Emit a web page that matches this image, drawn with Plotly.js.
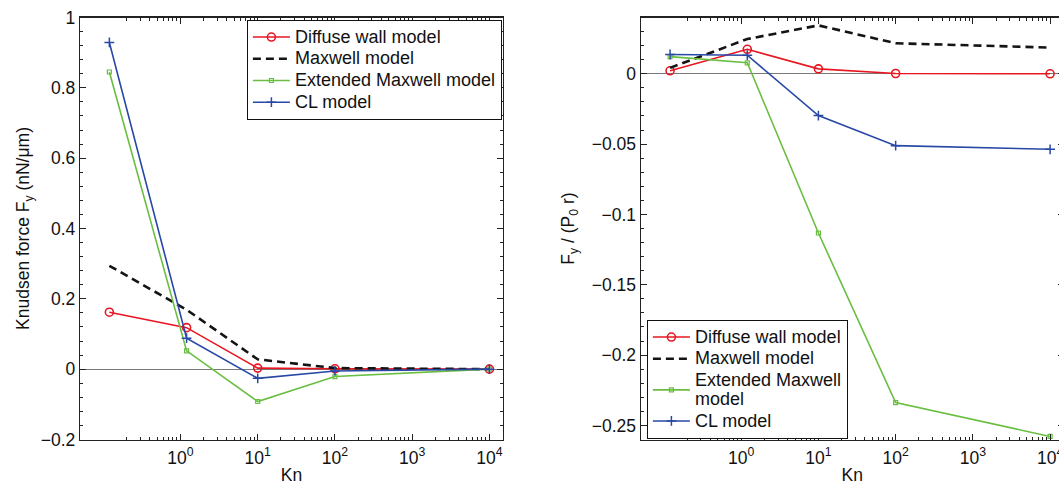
<!DOCTYPE html>
<html>
<head>
<meta charset="utf-8">
<script src="https://cdn.plot.ly/plotly-3.0.1.min.js"></script>
<style>
html,body{margin:0;padding:0;overflow:hidden;background:#fff;}
#chart{width:1064px;height:485px;}
</style>
</head>
<body>
<div id="chart"></div>
<script>
// ---- data ----
const kn = [0.12, 1.2, 10, 100, 10000];
const seriesNames = ["Diffuse wall model", "Maxwell model", "Extended Maxwell model", "CL model"];
const seriesNamesRight = ["Diffuse wall model", "Maxwell model", "Extended Maxwell<br>model", "CL model"];
// Left panel: Knudsen force Fy (nN/um)
const diffuseLeft  = [0.162, 0.118, 0.003, 0.001, 0.0];
const maxwellLeft  = [0.294, 0.169, 0.028, 0.003, 0.0];
const extendedLeft = [0.845, 0.052, -0.092, -0.021, 0.0];
const clLeft       = [0.929, 0.088, -0.026, -0.005, 0.0];
// Right panel: Fy / (P0 r)
const diffuseRight  = [0.0021, 0.0174, 0.0035, 0.0002, 0.0];
const maxwellRight  = [0.0042, 0.0247, 0.0344, 0.0217, 0.0186];
const extendedRight = [0.0122, 0.0078, -0.1132, -0.2338, -0.2578];
const clRight       = [0.0137, 0.0132, -0.0297, -0.0511, -0.0537];
// tick labels
const xTickVals = [1, 10, 100, 1000, 10000];
const xTickText = ["10<sup>0</sup>", "10<sup>1</sup>", "10<sup>2</sup>", "10<sup>3</sup>", "10<sup>4</sup>"];

// ---- styles ----
const W = 1064, H = 485;
const FONT = "Liberation Sans, Arial, Helvetica, sans-serif";
const LEG_TEXT = 18;      // visible legend text size
const LEG_ROW = 14.4;     // legend row metric (controls entry spacing)
function legText(name) {
  return name.split("<br>").map(p => '<span style="font-size:' + LEG_TEXT + 'px">' + p + '</span>').join("<br>");
}
const styles = [
  {color: "rgb(232,22,32)", width: 1.6, dash: "solid", marker: {symbol: "circle-open", size: 8, line: {width: 1.6, color: "rgb(232,22,32)"}}, mode: "lines+markers"},
  {color: "rgb(20,20,20)", width: 2.6, dash: "8px,5px", marker: null, mode: "lines"},
  {color: "rgb(105,190,65)", width: 1.6, dash: "solid", marker: {symbol: "square-open", size: 4, line: {width: 1.2, color: "rgb(105,190,65)"}}, mode: "lines+markers"},
  {color: "rgb(40,72,165)", width: 1.6, dash: "solid", marker: {symbol: "cross-thin-open", size: 7, line: {width: 1.5, color: "rgb(40,72,165)"}}, mode: "lines+markers"}
];
const leftData = [diffuseLeft, maxwellLeft, extendedLeft, clLeft];
const rightData = [diffuseRight, maxwellRight, extendedRight, clRight];

const traces = [];
function mk(i, ys, name, xa, ya, leg) {
  const s = styles[i];
  const t = {x: kn, y: ys, name: legText(name), xaxis: xa, yaxis: ya, legend: leg,
             mode: s.mode, line: {color: s.color, width: s.width, dash: s.dash}};
  if (s.marker) t.marker = s.marker;
  return t;
}
for (let i = 0; i < 4; i++) traces.push(mk(i, leftData[i], seriesNames[i], "x", "y", "legend"));
for (let i = 0; i < 4; i++) traces.push(mk(i, rightData[i], seriesNamesRight[i], "x2", "y2", "legend2"));

// minor log ticks 2..9 per decade
const minorX = [];
for (let d = -1; d <= 4; d++) for (let k = 2; k <= 9; k++) minorX.push(k * Math.pow(10, d));

const xRange = [Math.log10(0.05), Math.log10(15000)];
const yDom = [1 - 439.5 / H, 1 - 17.5 / H];
const TICK_FONT = {family: FONT, size: 17.5, color: "#111"};
const TITLE_FONT = {family: FONT, size: 17.5, color: "#111"};

function xaxis(dom, anchor) {
  return {
    type: "log", domain: dom, range: xRange, anchor: anchor,
    tickmode: "array", tickvals: xTickVals, ticktext: xTickText,
    ticks: "inside", ticklen: 6, tickwidth: 1, tickcolor: "#222",
    minor: {tickmode: "array", tickvals: minorX, ticks: "inside", ticklen: 3, tickwidth: 1, tickcolor: "#222"},
    showline: true, linecolor: "#222", linewidth: 1.2, mirror: "ticks",
    showgrid: false, zeroline: false, automargin: false,
    ticklabelstandoff: 2,
    tickfont: TICK_FONT,
    title: {text: "Kn", font: TITLE_FONT, standoff: 3}
  };
}
function yaxis(range, dtick, minorD, anchor, title, standoff) {
  return {
    domain: yDom, range: range, anchor: anchor,
    tickmode: "linear", tick0: 0, dtick: dtick,
    ticks: "inside", ticklen: 6, tickwidth: 1, tickcolor: "#222",
    minor: {tick0: 0, dtick: minorD, ticks: "inside", ticklen: 3, tickwidth: 1, tickcolor: "#222"},
    showline: true, linecolor: "#222", linewidth: 1.2, mirror: "ticks",
    showgrid: false, zeroline: true, zerolinecolor: "#7a7a7a", zerolinewidth: 1.3,
    automargin: false,
    tickfont: TICK_FONT,
    title: {text: title, font: TITLE_FONT, standoff: standoff}
  };
}

function legendCfg(x, yTop) {
  return {
    x: x / W, y: 1 - yTop / H, xanchor: "left", yanchor: "top",
    bgcolor: "#fff", bordercolor: "#111", borderwidth: 1.2,
    font: {family: FONT, size: LEG_ROW, color: "#111"}, tracegroupgap: 0, itemwidth: 37
  };
}

const layout = {
  width: W, height: H,
  margin: {l: 0, r: 0, t: 0, b: 0},
  paper_bgcolor: "#fff", plot_bgcolor: "#fff",
  font: {family: FONT, size: 17.5, color: "#111"},
  xaxis: xaxis([80 / W, 503 / W], "y"),
  yaxis: yaxis([-0.2, 1], 0.2, 0.04, "x", "Knudsen force F<sub>y</sub> (nN/μm)", 6),
  xaxis2: xaxis([640.7 / W, 1063.7 / W], "y2"),
  yaxis2: yaxis([-0.26, 0.04], 0.05, 0.01, "x2", "F<sub>y</sub> / (P<sub>0</sub> r)", 12),
  legend: legendCfg(246.7, 20),
  legend2: legendCfg(646.7, 320),
  showlegend: true
};

Plotly.newPlot("chart", traces, layout, {staticPlot: true, displayModeBar: false});
</script>
</body>
</html>
